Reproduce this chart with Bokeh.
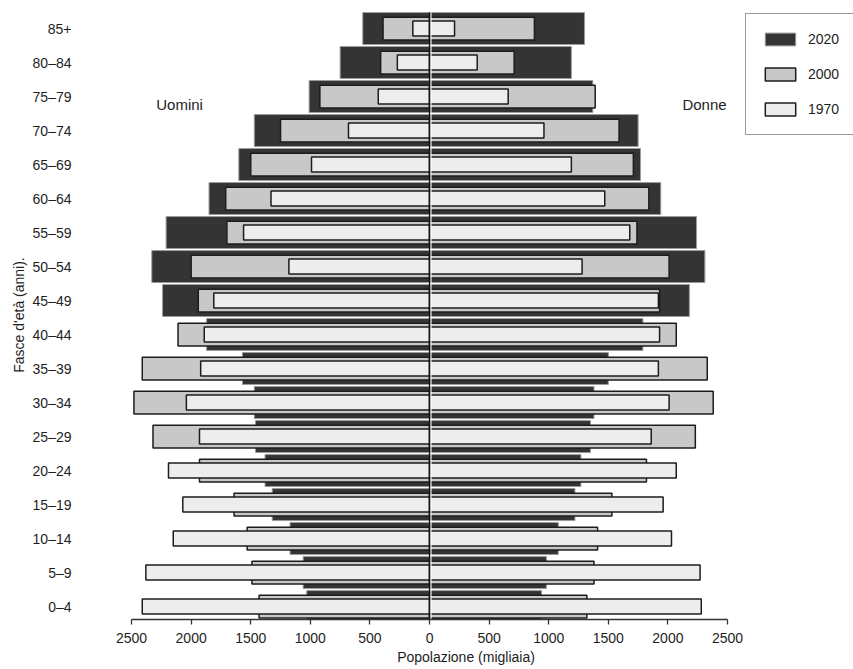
from bokeh.plotting import figure
from bokeh.models import (FixedTicker, Label, Legend, LegendItem, Range1d, ColumnDataSource, Title)
from bokeh.embed import file_html
from bokeh.resources import INLINE

# ---------------- data ----------------
age_groups = ["0–4", "5–9", "10–14", "15–19", "20–24", "25–29", "30–34", "35–39",
              "40–44", "45–49", "50–54", "55–59", "60–64", "65–69", "70–74",
              "75–79", "80–84", "85+"]

men_2020 = [1030, 1060, 1170, 1320, 1380, 1460, 1470, 1570, 1870, 2240,
            2330, 2210, 1850, 1600, 1470, 1010, 750, 560]
men_2000 = [1430, 1490, 1530, 1640, 1930, 2320, 2480, 2410, 2110, 1940,
            2000, 1700, 1710, 1500, 1250, 920, 410, 390]
men_1970 = [2410, 2380, 2150, 2070, 2190, 1930, 2040, 1920, 1890, 1810,
            1180, 1560, 1330, 990, 680, 430, 270, 140]

women_2020 = [940, 980, 1080, 1220, 1270, 1350, 1380, 1500, 1790, 2180,
              2310, 2240, 1940, 1770, 1750, 1370, 1190, 1300]
women_2000 = [1320, 1380, 1410, 1530, 1820, 2230, 2380, 2330, 2070, 1930,
              2010, 1740, 1840, 1710, 1590, 1390, 710, 880]
women_1970 = [2280, 2270, 2030, 1960, 2070, 1860, 2010, 1920, 1930, 1920,
              1280, 1680, 1470, 1190, 960, 660, 400, 210]

years = ["2020", "2000", "1970"]
x_ticks = [-2500, -2000, -1500, -1000, -500, 0, 500, 1000, 1500, 2000, 2500]

# ---------------- styles ----------------
FONT = "Liberation Sans"
TXT = "#1e1e1e"
FS = "14px"
fills = {"2020": "#343434", "2000": "#c8c8c8", "1970": "#ededed"}
lines = {"2020": "#9c9c9c", "2000": "#1c1c1c", "1970": "#1c1c1c"}
lwidth = {"2020": 1.0, "2000": 1.5, "1970": 1.5}
heights = {"2020": 0.94, "2000": 0.67, "1970": 0.44}

series = {
    "2020": (men_2020, women_2020),
    "2000": (men_2000, women_2000),
    "1970": (men_1970, women_1970),
}

pos = list(range(len(age_groups)))
Y0, Y1 = -0.38, 17.53

p = figure(width=853, height=669, output_backend="svg", toolbar_location=None,
           x_range=Range1d(-2945, 3557), y_range=Range1d(Y0, Y1),
           min_border_left=78, min_border_right=0, min_border_top=10,
           min_border_bottom=50)
p.outline_line_color = None
p.xgrid.visible = False
p.ygrid.visible = False
p.background_fill_color = "white"

renderers = {}
for yr in ["2020", "2000", "1970"]:
    m, w = series[yr]
    src = ColumnDataSource(dict(y=pos + pos,
                                left=[-v for v in m] + [0] * len(w),
                                right=[0] * len(m) + list(w)))
    r = p.hbar(y="y", left="left", right="right", height=heights[yr], source=src,
               fill_color=fills[yr], line_color=lines[yr], line_width=lwidth[yr])
    renderers[yr] = r

# centre line
top = len(age_groups) - 1 + heights["2020"] / 2
p.segment(x0=[12], y0=[Y0], x1=[12], y1=[top], line_color="white", line_width=1.2)
p.segment(x0=[0], y0=[Y0], x1=[0], y1=[top], line_color="#111111", line_width=1.3)

# x axis
xa = p.xaxis[0]
xa.ticker = FixedTicker(ticks=x_ticks)
xa.major_label_overrides = {t: str(abs(t)) for t in x_ticks}
xa.bounds = (-2500, 2500)
xa.minor_tick_line_color = None
xa.minor_tick_out = 0
xa.major_tick_in = 0
xa.major_tick_out = 5
xa.axis_line_color = "#333333"
xa.axis_line_width = 1.3
xa.major_tick_line_color = "#333333"
xa.major_tick_line_width = 1.3
xa.major_label_text_font = FONT
xa.major_label_text_font_size = FS
xa.major_label_text_color = TXT
xa.major_label_standoff = 8
xa.axis_label = "Popolazione (migliaia)"
xa.axis_label_text_font = FONT
xa.axis_label_text_font_size = FS
xa.axis_label_text_font_style = "normal"
xa.axis_label_text_color = TXT
xa.axis_label_standoff = 3

# y axis
ya = p.yaxis[0]
ya.ticker = FixedTicker(ticks=pos)
ya.major_label_overrides = {i: g for i, g in enumerate(age_groups)}
ya.axis_line_color = None
ya.major_tick_line_color = None
ya.minor_tick_line_color = None
ya.major_tick_out = 0
ya.major_tick_in = 0
ya.minor_tick_out = 0
ya.minor_tick_in = 0
ya.major_label_text_font = FONT
ya.major_label_text_font_size = FS
ya.major_label_text_color = TXT
ya.major_label_standoff = 7

# y axis title, as a side title shifted a little upward
ytitle = Title(text="Fasce d'età (anni).", align="center", offset=18, standoff=5,
               text_font=FONT, text_font_size=FS, text_font_style="normal",
               text_color=TXT)
p.add_layout(ytitle, "left")

# side labels
p.add_layout(Label(x=-2097, y=14.76, text="Uomini", text_align="center",
                   text_baseline="middle", text_font=FONT, text_font_size="15px",
                   text_color=TXT))
p.add_layout(Label(x=2307, y=14.76, text="Donne", text_align="center",
                   text_baseline="middle", text_font=FONT, text_font_size="15px",
                   text_color=TXT))

# legend
legend = Legend(items=[LegendItem(label=yr, renderers=[renderers[yr]]) for yr in years],
                location=(667, 484), orientation="vertical",
                glyph_width=38, glyph_height=16, label_height=20, label_width=20,
                spacing=15, padding=15, label_standoff=9,
                border_line_color="#333333", border_line_width=1.2,
                background_fill_color="white", background_fill_alpha=1.0,
                label_text_font=FONT, label_text_font_size=FS,
                label_text_color=TXT, margin=0)
p.add_layout(legend)

open("out.html", "w").write(file_html(p, INLINE))
